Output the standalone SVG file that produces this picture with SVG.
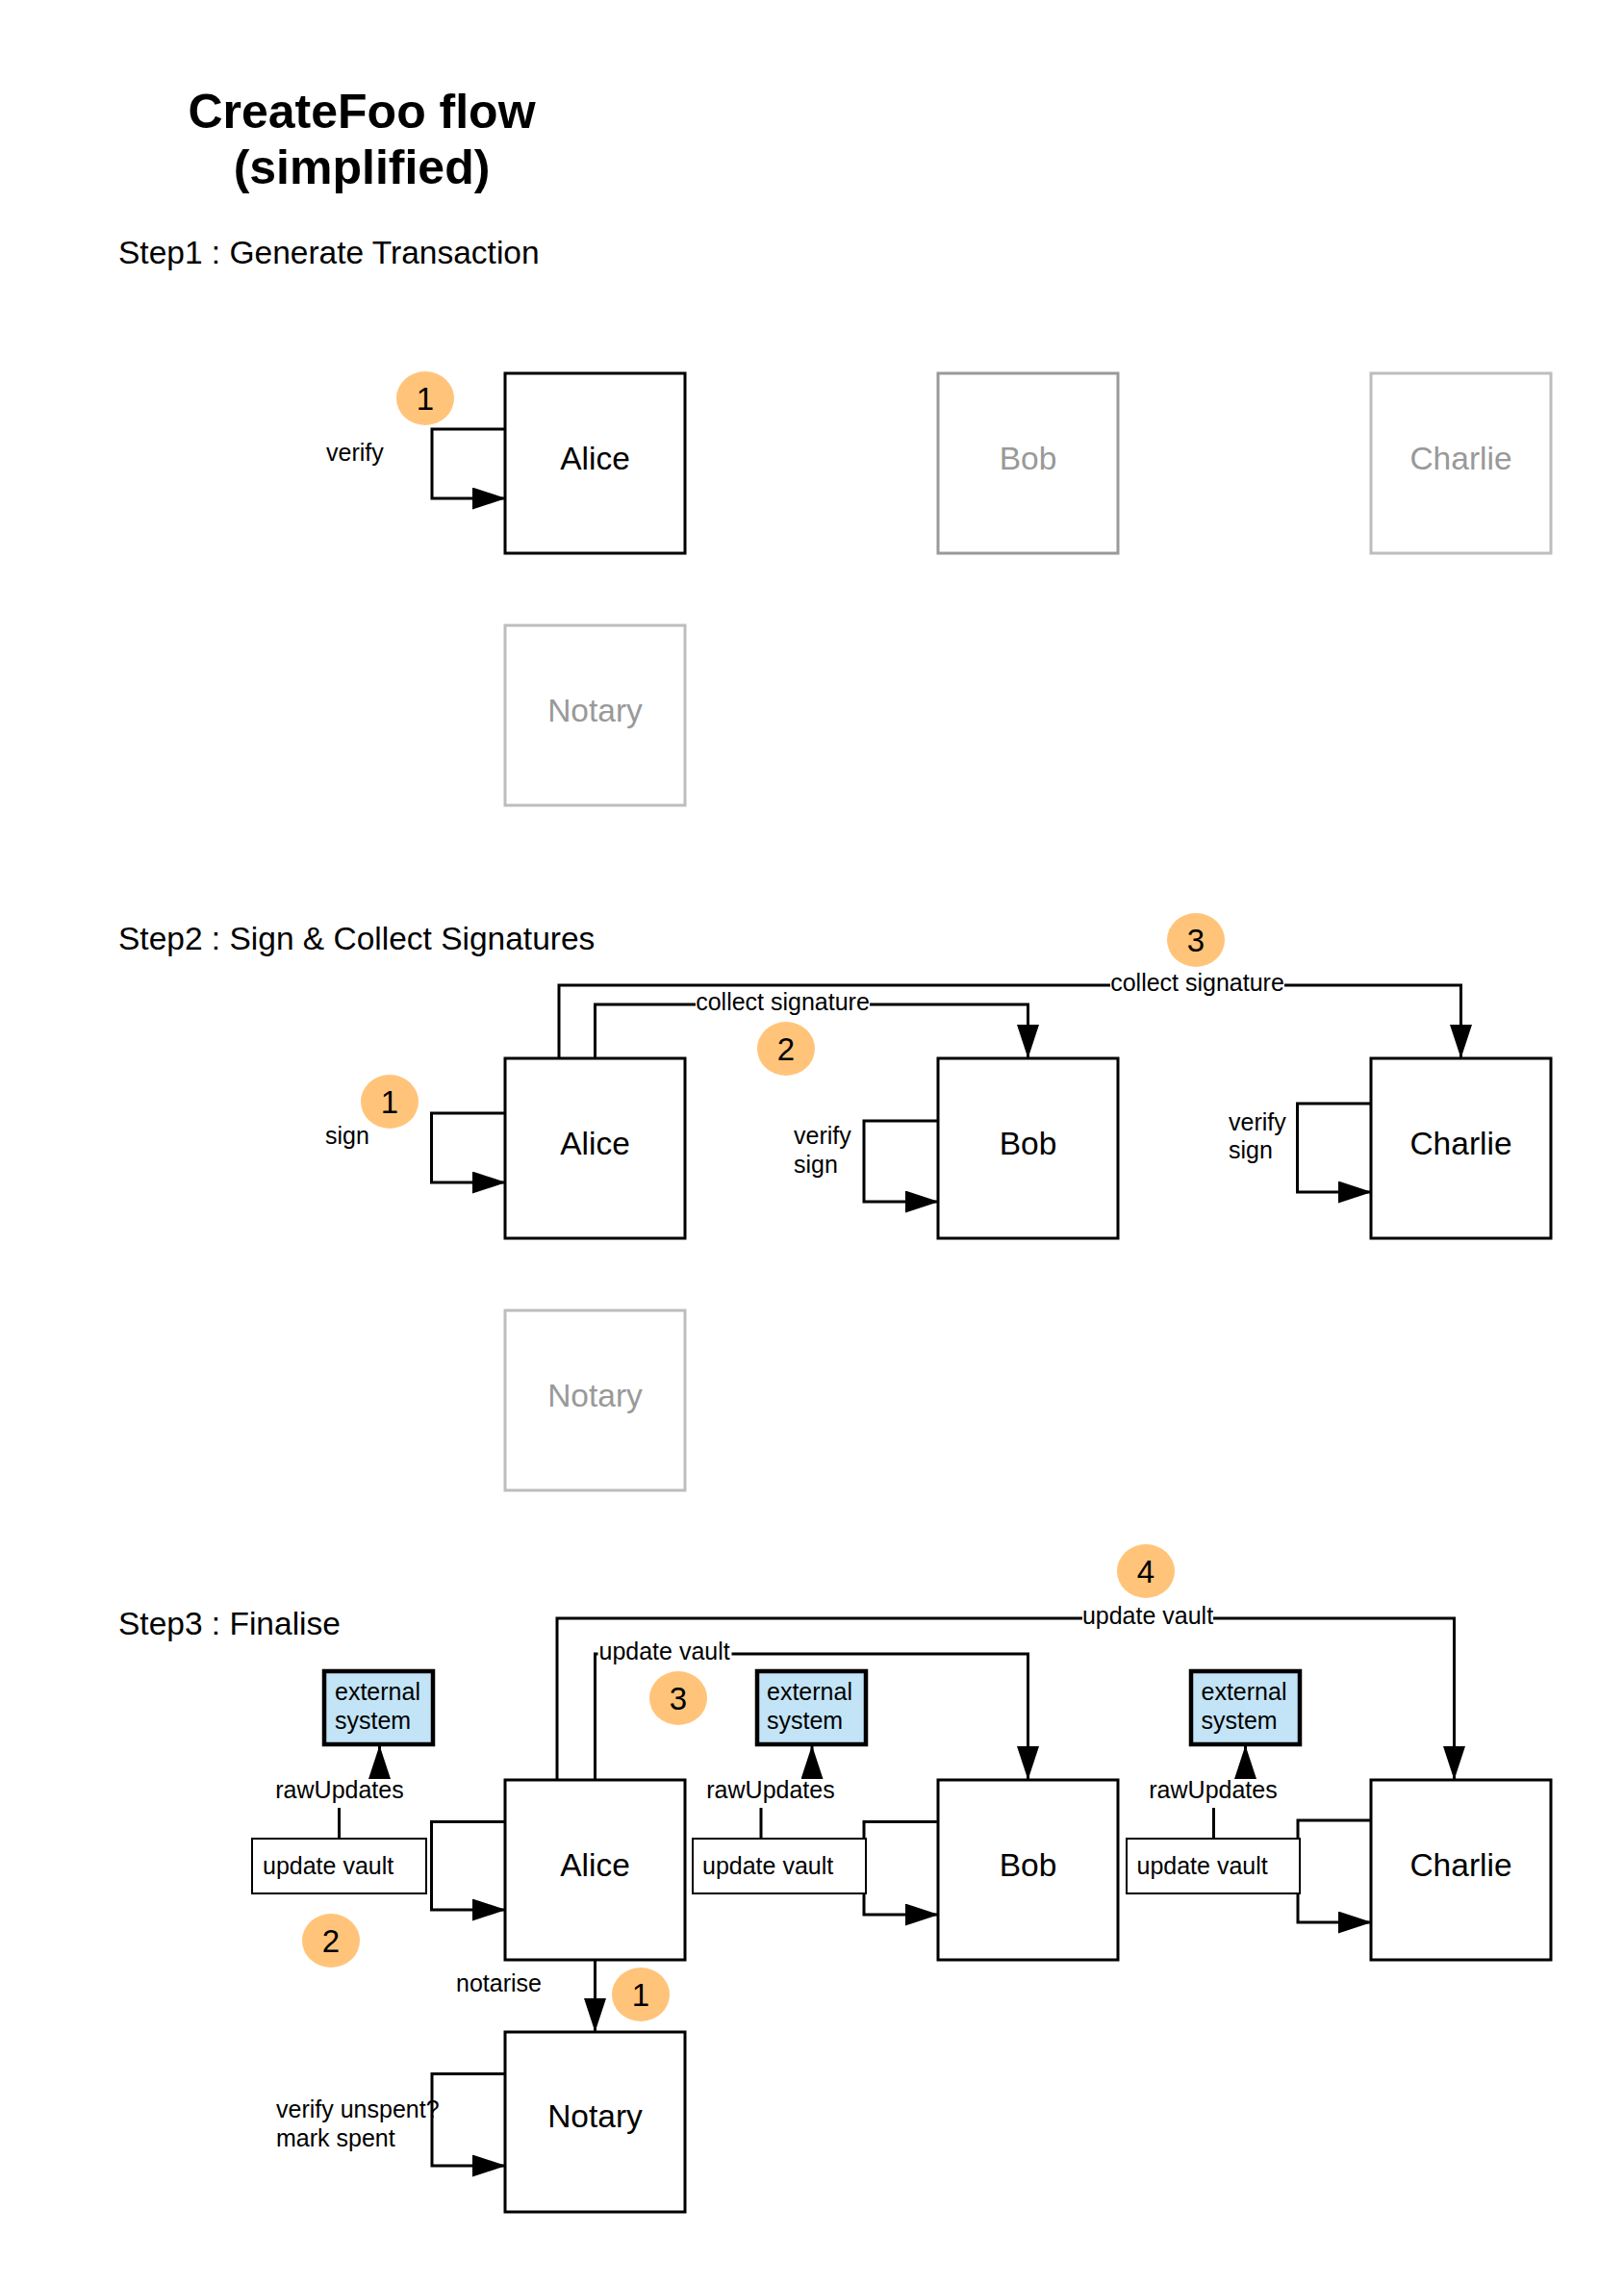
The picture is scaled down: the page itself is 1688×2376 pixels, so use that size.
<svg xmlns="http://www.w3.org/2000/svg" width="1688" height="2376" viewBox="0 0 1688 2376">
<style>
text{font-family:"Liberation Sans",Arial,sans-serif;fill:#000}
.title{font-size:50px;font-weight:bold;text-anchor:middle}
.step{font-size:33.5px}
.lbl{font-size:33.5px;text-anchor:middle}
.sm{font-size:25px}
.smc{font-size:25px;text-anchor:middle}
.node{fill:#fff;stroke:#000;stroke-width:3}
.ghost1{fill:#fff;stroke:#999;stroke-width:3}
.ghost2{fill:#fff;stroke:#bdbdbd;stroke-width:3}
.gtxt{fill:#999}
.ext{fill:#c2e4f6;stroke:#000;stroke-width:4.5}
.uv{fill:#fff;stroke:#000;stroke-width:2}
.badge{fill:#ffc47a}
.num{font-size:33px;text-anchor:middle}
.conn{fill:none;stroke:#000;stroke-width:3;marker-end:url(#arr)}
.bg{fill:#fff}
</style>
<defs>
<marker id="arr" markerUnits="userSpaceOnUse" markerWidth="35" markerHeight="23" refX="34" refY="11.5" orient="auto"><path d="M0,0 L35,11.5 L0,23 z" fill="#000"/></marker>
</defs>
<rect x="0" y="0" width="1688" height="2376" fill="#fff"/>

<g id="title">
<text class="title" x="376" y="133">CreateFoo flow</text>
<text class="title" x="376" y="191">(simplified)</text>
</g>
<g id="step-headings">
<text class="step" x="123" y="274">Step1 : Generate Transaction</text>
<text class="step" x="123" y="987">Step2 : Sign &amp; Collect Signatures</text>
<text class="step" x="123" y="1699">Step3 : Finalise</text>
</g>

<g id="connectors">
<path class="conn" d="M525,446 H449 V518 H525"/>
<path class="conn" d="M525,1157 H448.5 V1229 H525"/>
<path class="conn" d="M975,1165 H898 V1249 H975"/>
<path class="conn" d="M1425,1147 H1348.5 V1239 H1425"/>
<path class="conn" d="M618.5,1100 V1044 H1068.5 V1099"/>
<path class="conn" d="M581,1100 V1024 H1518.5 V1099"/>
<path class="conn" d="M579,1850 V1682 H1511.5 V1849"/>
<path class="conn" d="M618.5,1850 V1719 H1068.5 V1849"/>
<path class="conn" d="M618.5,2037 V2111"/>
<path class="conn" d="M525,1893.5 H448.5 V1985 H525"/>
<path class="conn" d="M975,1893.5 H898 V1990 H975"/>
<path class="conn" d="M1425,1892 H1349 V1998 H1425"/>
<path class="conn" d="M525,2155.5 H449 V2251 H525"/>
<path class="conn" d="M352.5,1911 V1862 H394.5 V1815"/>
<path class="conn" d="M791,1911 V1862 H844 V1815"/>
<path class="conn" d="M1261.5,1911 V1862 H1294.5 V1815"/>
</g>

<g id="connector-labels">
<rect class="bg" x="723" y="1031" width="181" height="27"/>
<text class="smc" x="813.5" y="1050">collect signature</text>
<rect class="bg" x="1154" y="1011" width="181" height="27"/>
<text class="smc" x="1244.5" y="1030">collect signature</text>
<rect class="bg" x="1125" y="1669" width="136" height="27"/>
<text class="smc" x="1193" y="1688">update vault</text>
<rect class="bg" x="621.5" y="1706" width="139" height="27"/>
<text class="sm" x="622.5" y="1725">update vault</text>
<rect class="bg" x="286" y="1849" width="134" height="30"/>
<text class="smc" x="353" y="1869">rawUpdates</text>
<rect class="bg" x="734" y="1849" width="134" height="30"/>
<text class="smc" x="801" y="1869">rawUpdates</text>
<rect class="bg" x="1194" y="1849" width="134" height="30"/>
<text class="smc" x="1261" y="1869">rawUpdates</text>
<text class="sm" x="339" y="479">verify</text>
<text class="sm" x="338" y="1189">sign</text>
<text class="sm" x="825" y="1189">verify</text>
<text class="sm" x="825" y="1219">sign</text>
<text class="sm" x="1277" y="1175">verify</text>
<text class="sm" x="1277" y="1204">sign</text>
<text class="sm" x="474" y="2070">notarise</text>
<text class="sm" x="287" y="2201">verify unspent?</text>
<text class="sm" x="287" y="2231">mark spent</text>
</g>

<g id="s1-alice"><rect class="node" x="525" y="388" width="187" height="187"/><text class="lbl" x="618.5" y="488">Alice</text></g>
<g id="s1-bob"><rect class="ghost1" x="975" y="388" width="187" height="187"/><text class="lbl gtxt" x="1068.5" y="488">Bob</text></g>
<g id="s1-charlie"><rect class="ghost2" x="1425" y="388" width="187" height="187"/><text class="lbl gtxt" x="1518.5" y="488">Charlie</text></g>
<g id="s1-notary"><rect class="ghost2" x="525" y="650" width="187" height="187"/><text class="lbl gtxt" x="618.5" y="750">Notary</text></g>

<g id="s2-alice"><rect class="node" x="525" y="1100" width="187" height="187"/><text class="lbl" x="618.5" y="1200">Alice</text></g>
<g id="s2-bob"><rect class="node" x="975" y="1100" width="187" height="187"/><text class="lbl" x="1068.5" y="1200">Bob</text></g>
<g id="s2-charlie"><rect class="node" x="1425" y="1100" width="187" height="187"/><text class="lbl" x="1518.5" y="1200">Charlie</text></g>
<g id="s2-notary"><rect class="ghost2" x="525" y="1362" width="187" height="187"/><text class="lbl gtxt" x="618.5" y="1462">Notary</text></g>

<g id="s3-alice"><rect class="node" x="525" y="1850" width="187" height="187"/><text class="lbl" x="618.5" y="1950">Alice</text></g>
<g id="s3-bob"><rect class="node" x="975" y="1850" width="187" height="187"/><text class="lbl" x="1068.5" y="1950">Bob</text></g>
<g id="s3-charlie"><rect class="node" x="1425" y="1850" width="187" height="187"/><text class="lbl" x="1518.5" y="1950">Charlie</text></g>
<g id="s3-notary"><rect class="node" x="525" y="2112" width="187" height="187"/><text class="lbl" x="618.5" y="2211">Notary</text></g>

<g id="ext-alice"><rect class="ext" x="337" y="1737" width="113" height="76"/><text class="sm" x="348" y="1767">external</text><text class="sm" x="348" y="1797">system</text></g>
<g id="ext-bob"><rect class="ext" x="787" y="1737" width="113" height="76"/><text class="sm" x="797" y="1767">external</text><text class="sm" x="797" y="1797">system</text></g>
<g id="ext-charlie"><rect class="ext" x="1238" y="1737" width="113" height="76"/><text class="sm" x="1248.5" y="1767">external</text><text class="sm" x="1248.5" y="1797">system</text></g>

<g id="uv-alice"><rect class="uv" x="262" y="1911" width="181" height="57"/><text class="sm" x="273" y="1948">update vault</text></g>
<g id="uv-bob"><rect class="uv" x="720" y="1911" width="180" height="57"/><text class="sm" x="730" y="1948">update vault</text></g>
<g id="uv-charlie"><rect class="uv" x="1171" y="1911" width="180" height="57"/><text class="sm" x="1181.5" y="1948">update vault</text></g>

<g id="badge-s1-1"><ellipse class="badge" cx="442" cy="414" rx="30" ry="28"/><text class="num" x="442" y="426">1</text></g>
<g id="badge-s2-1"><ellipse class="badge" cx="405" cy="1145" rx="30" ry="28"/><text class="num" x="405" y="1157">1</text></g>
<g id="badge-s2-2"><ellipse class="badge" cx="817" cy="1090" rx="30" ry="28"/><text class="num" x="817" y="1102">2</text></g>
<g id="badge-s2-3"><ellipse class="badge" cx="1243" cy="977" rx="30" ry="28"/><text class="num" x="1243" y="989">3</text></g>
<g id="badge-s3-4"><ellipse class="badge" cx="1191" cy="1633" rx="30" ry="28"/><text class="num" x="1191" y="1645">4</text></g>
<g id="badge-s3-3"><ellipse class="badge" cx="705" cy="1765" rx="30" ry="28"/><text class="num" x="705" y="1777">3</text></g>
<g id="badge-s3-2"><ellipse class="badge" cx="344" cy="2017" rx="30" ry="28"/><text class="num" x="344" y="2029">2</text></g>
<g id="badge-s3-1"><ellipse class="badge" cx="666" cy="2073" rx="30" ry="28"/><text class="num" x="666" y="2085">1</text></g>
</svg>
